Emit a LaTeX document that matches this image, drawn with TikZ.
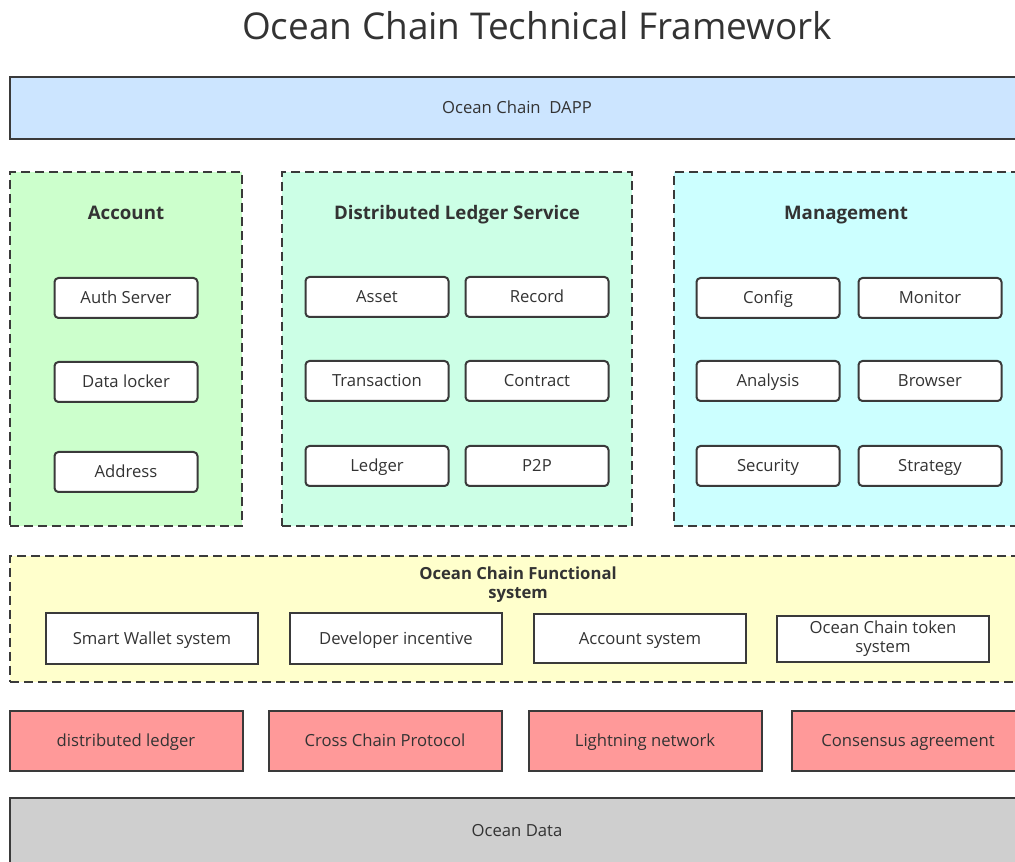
\documentclass[tikz,border=0pt]{standalone}
\usepackage{fontspec}
\setmainfont{Open Sans}
\definecolor{ln}{HTML}{3A3A3A}
\definecolor{tx}{HTML}{333333}
\definecolor{cblue}{HTML}{CCE5FF}
\definecolor{cgreen}{HTML}{CCFFCC}
\definecolor{cmint}{HTML}{CCFFE6}
\definecolor{ccyan}{HTML}{CCFFFF}
\definecolor{cyel}{HTML}{FFFFCC}
\definecolor{cred}{HTML}{FF9999}
\definecolor{cgray}{HTML}{CFCFCF}
\tikzset{
  sz/.style 2 args={minimum width=#1*0.75pt, minimum height=#2*0.75pt, inner sep=0pt, outer sep=0pt},
  base/.style={draw=ln, line width=1.5pt, text=tx, font=\fontsize{12.5}{14.5}\selectfont, align=center},
  one/.style={text height=10pt, text depth=2pt},
  bar/.style={base, one},
  group/.style={draw=ln, line width=1.5pt, dash pattern=on 7pt off 3.5pt},
  item/.style={base, one, fill=white, rounded corners=3pt},
  fitem/.style={base, one, fill=white},
  grouptitle/.style={text=tx, font=\bfseries\fontsize{14}{16}\selectfont, align=center, inner sep=0pt, text height=11pt, text depth=2pt},
}
\begin{document}
\begin{tikzpicture}[x=0.75pt,y=-0.75pt]
\useasboundingbox (0,0) rectangle (1015,862);
\clip (0,0) rectangle (1015,862);
\node[text=tx, font=\fontsize{27.7}{32}\selectfont] (title) at (537,26) {Ocean Chain Technical Framework};
% DAPP bar
\node[bar, fill=cblue, sz={1014}{62}] (dapp) at (517,108) {Ocean Chain\ \ DAPP};
% Account group
\node[group, fill=cgreen, sz={232}{354}] (acc) at (126,349) {};
\node[grouptitle] (acct) at (126,214) {Account};
\node[item, sz={143}{40}] (auth) at (126,298) {Auth Server};
\node[item, sz={143}{40}] (locker) at (126,382) {Data locker};
\node[item, sz={143}{40}] (addr) at (126,472) {Address};
% Distributed ledger service
\node[group, fill=cmint, sz={350}{354}] (dls) at (457,349) {};
\node[grouptitle] (dlst) at (457,214) {Distributed Ledger Service};
\node[item, sz={143}{40}] (asset) at (377,297) {Asset};
\node[item, sz={143}{40}] (record) at (537,297) {Record};
\node[item, sz={143}{40}] (trans) at (377,381) {Transaction};
\node[item, sz={143}{40}] (contract) at (537,381) {Contract};
\node[item, sz={143}{40}] (ledger) at (377,466) {Ledger};
\node[item, sz={143}{40}] (p2p) at (537,466) {P2P};
% Management
\node[group, fill=ccyan, sz={346}{354}] (mgmt) at (847,349) {};
\node[grouptitle] (mgmtt) at (846,214) {Management};
\node[item, sz={143}{40}] (config) at (768,298) {Config};
\node[item, sz={143}{40}] (monitor) at (930,298) {Monitor};
\node[item, sz={143}{40}] (analysis) at (768,381) {Analysis};
\node[item, sz={143}{40}] (browser) at (930,381) {Browser};
\node[item, sz={143}{40}] (security) at (768,466) {Security};
\node[item, sz={143}{40}] (strategy) at (930,466) {Strategy};
% Functional system
\node[group, fill=cyel, sz={1016}{126}] (func) at (518,619) {};
\node[text=tx, font=\bfseries\fontsize{12.5}{14.5}\selectfont, align=center, inner sep=0pt] (funct) at (518,585) {Ocean Chain Functional\\system};
\node[fitem, sz={212}{51}] (wallet) at (152,639) {Smart Wallet system};
\node[fitem, sz={212}{51}] (dev) at (396,639) {Developer incentive};
\node[fitem, sz={212}{49}] (accsys) at (640,639) {Account system};
\node[base, fill=white, sz={212}{46}] (token) at (883,639) {Ocean Chain token\\system};
% Red row
\node[bar, fill=cred, sz={233}{60}] (dled) at (126,741) {distributed ledger};
\node[bar, fill=cred, sz={233}{60}] (cross) at (385,741) {Cross Chain Protocol};
\node[bar, fill=cred, sz={233}{60}] (light) at (645,741) {Lightning network};
\node[bar, fill=cred, sz={233}{60}] (cons) at (908,741) {Consensus agreement};
% Ocean data
\node[bar, fill=cgray, sz={1014}{72}] (data) at (517,834) {};
\node[text=tx, font=\fontsize{12.5}{14.5}\selectfont, inner sep=0pt, one] (datat) at (517,831) {Ocean Data};
\end{tikzpicture}
\end{document}
